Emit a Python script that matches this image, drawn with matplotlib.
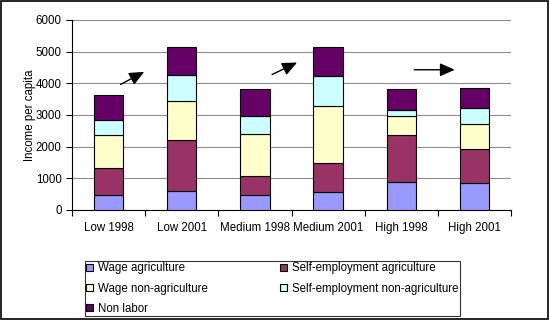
import numpy as np
import matplotlib
matplotlib.use('Agg')
import matplotlib.pyplot as plt
from matplotlib.ticker import FixedLocator

plt.rcParams['font.family'] = ['Liberation Sans', 'DejaVu Sans']

categories = ['Low 1998', 'Low 2001', 'Medium 1998', 'Medium 2001', 'High 1998', 'High 2001']
wage_agri = [460, 610, 460, 550, 890, 860]
self_agri = [860, 1610, 610, 920, 1460, 1060]
wage_nonagri = [1030, 1210, 1320, 1810, 600, 790]
self_nonagri = [490, 840, 560, 960, 210, 520]
non_labor = [790, 860, 870, 890, 660, 620]

series = [
    ('Wage agriculture', wage_agri, '#9999FF'),
    ('Self-employment agriculture', self_agri, '#993366'),
    ('Wage non-agriculture', wage_nonagri, '#FFFFCC'),
    ('Self-employment non-agriculture', self_nonagri, '#CCFFFF'),
    ('Non labor', non_labor, '#660066'),
]

# arrows: (x_start, y_start, x_end, y_end) in category / value units
arrows = [(0.13, 3920, 0.52, 4400), (2.2, 4235, 2.61, 4690), (4.14, 4424, 4.77, 4424)]

fs = 8.3

fig = plt.figure(figsize=(5.5, 3.2), dpi=100)
fig.patches.append(plt.Rectangle((0.002, 0.003), 0.995, 0.994, transform=fig.transFigure,
                                 fill=False, edgecolor='black', linewidth=1.2))
ax = fig.add_axes([0.131, 0.344, 0.798, 0.594])

x = np.arange(len(categories))
bottom = np.zeros(len(categories))
handles = []
for name, vals, color in series:
    b = ax.bar(x, vals, width=0.4, bottom=bottom, color=color, edgecolor='black',
               linewidth=0.8, label=name, zorder=3)
    handles.append(b)
    bottom += np.array(vals)

for x0, y0, x1, y1 in arrows:
    ax.annotate('', xy=(x1, y1), xytext=(x0, y0),
                arrowprops=dict(arrowstyle='-|>,head_length=0.9,head_width=0.4',
                                color='black', lw=1.0), zorder=5)

ax.set_xlim(-0.5, len(categories) - 0.5)
ax.set_ylim(0, 6000)
ax.set_yticks(range(0, 6001, 1000))
ax.yaxis.grid(True, color='#8c8c8c', linewidth=0.8, zorder=0)
ax.set_axisbelow(True)
ax.set_xticks(x)
ax.set_xticklabels(categories, fontsize=fs)
ax.tick_params(axis='x', which='major', length=0, pad=9)
ax.xaxis.set_minor_locator(FixedLocator(np.arange(-0.5, len(categories), 1.0)))
ax.tick_params(axis='x', which='minor', length=4, direction='out', width=0.8)
ax.tick_params(axis='y', labelsize=fs, length=4, width=0.8)
ax.set_ylabel('Income per capita', fontsize=fs, labelpad=0)
for s in ['top', 'right']:
    ax.spines[s].set_visible(False)
for s in ['left', 'bottom']:
    ax.spines[s].set_linewidth(0.8)

order = [0, 2, 4, 1, 3]
leg = fig.legend([handles[i] for i in order], [series[i][0] for i in order],
                 ncol=2, loc='lower left', bbox_to_anchor=(85 / 550, 4 / 320),
                 fontsize=fs, frameon=True, fancybox=False,
                 handlelength=0.6, handleheight=0.6, handletextpad=0.4,
                 labelspacing=0.7, borderpad=0.12, borderaxespad=0,
                 columnspacing=6.3)
leg.get_frame().set_edgecolor('black')
leg.get_frame().set_linewidth(0.8)

plt.savefig('out.png', dpi=100)
plt.close()
